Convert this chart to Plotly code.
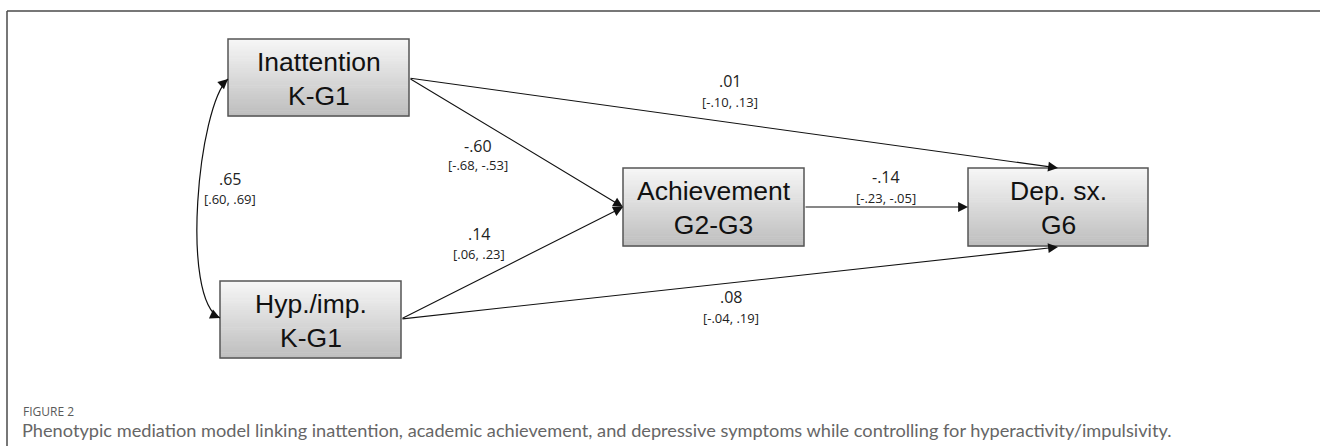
import plotly.graph_objects as go

# ---- model content -------------------------------------------------------
node_labels = ["Inattention<br>K-G1", "Hyp./imp.<br>K-G1",
               "Achievement<br>G2-G3", "Dep. sx.<br>G6"]

# directed paths (standardised estimates with 95% CI)
path_names = ["inatt_dep", "inatt_ach", "hyp_ach", "hyp_dep", "ach_dep"]
path_est = [0.01, -0.60, 0.14, 0.08, -0.14]
path_ci_low = [-0.10, -0.68, 0.06, -0.04, -0.23]
path_ci_high = [0.13, -0.53, 0.23, 0.19, -0.05]

# covariance between the two ADHD dimensions
cov_est = 0.65
cov_ci_low = 0.60
cov_ci_high = 0.69

caption_head = "FIGURE 2"
caption_text = ("Phenotypic mediation model linking inattention, academic achievement, "
                "and depressive symptoms while controlling for hyperactivity/impulsivity.")

# ---- layout geometry (pixel space) ---------------------------------------
W, H = 1320, 446
box_geom = [(228, 409, 39, 116), (220, 401, 281, 358),
            (623, 804, 168, 246), (968, 1148, 168, 246)]
arrow_geom = {                       # tail -> tip
    "inatt_dep": ((409, 78), (1058, 168)),
    "inatt_ach": ((409, 78), (623, 207)),
    "hyp_ach": ((401, 319), (623, 207)),
    "hyp_dep": ((401, 319), (1058, 247)),
    "ach_dep": ((804, 207), (968, 207)),
}
label_geom = {                       # (x, y of estimate, y of CI)
    "inatt_dep": (730, 81, 102),
    "inatt_ach": (478, 146, 165),
    "hyp_ach": (479, 234, 254),
    "hyp_dep": (731, 297, 318),
    "ach_dep": (886, 177, 198),
}
cov_label_geom = (230, 179, 199)
cov_curve = [(228, 79), (198, 106), (180, 300), (220, 318)]


def fmt(v):
    s = f"{v:.2f}"
    return s.replace("0.", ".", 1)


def ci_text(lo, hi):
    return f"[{fmt(lo)}, {fmt(hi)}]"


fig = go.Figure()
shapes = []
annotations = []

# frame (top and left rule)
shapes.append(dict(type="line", x0=7, x1=W, y0=11, y1=11,
                   line=dict(color="#4a4a4a", width=1.5)))
shapes.append(dict(type="line", x0=7, x1=7, y0=11, y1=H,
                   line=dict(color="#4a4a4a", width=1.5)))

# boxes with vertical grey gradient
n_strips = 40
top_c, bot_c = 246, 190
for (x0, x1, y0, y1), label in zip(box_geom, node_labels):
    h = (y1 - y0) / n_strips
    for i in range(n_strips):
        t = i / (n_strips - 1)
        g = round(top_c + (bot_c - top_c) * t)
        shapes.append(dict(type="rect", x0=x0, x1=x1, y0=y0 + i * h, y1=y0 + (i + 1) * h + 0.6,
                           fillcolor=f"rgb({g},{g},{g})", line=dict(width=0), layer="below"))
    shapes.append(dict(type="rect", x0=x0, x1=x1, y0=y0, y1=y1,
                       fillcolor="rgba(0,0,0,0)", line=dict(color="#555555", width=1.5)))
    annotations.append(dict(x=(x0 + x1) / 2, y=(y0 + y1) / 2 + 1, xref="x", yref="y",
                            text=label, showarrow=False,
                            font=dict(family="Liberation Sans, Arial", size=26.5, color="#111111")))

arrow_style = dict(arrowhead=2, arrowsize=1.8, arrowwidth=1.1,
                   arrowcolor="#111111", standoff=0, startstandoff=0)

# directed paths
for name, est, lo, hi in zip(path_names, path_est, path_ci_low, path_ci_high):
    (tx, ty), (hx, hy) = arrow_geom[name]
    annotations.append(dict(x=hx, y=hy, ax=tx, ay=ty, xref="x", yref="y",
                            axref="x", ayref="y", text="", showarrow=True, **arrow_style))
    lx, ly_est, ly_ci = label_geom[name]
    annotations.append(dict(x=lx, y=ly_est, xref="x", yref="y", text=fmt(est),
                            showarrow=False,
                            font=dict(family="Open Sans", size=16, color="#222222")))
    annotations.append(dict(x=lx, y=ly_ci, xref="x", yref="y", text=ci_text(lo, hi),
                            showarrow=False,
                            font=dict(family="Open Sans", size=13, color="#222222")))

# covariance: curved double-headed arrow
(p0, c1, c2, p3) = cov_curve
shapes.append(dict(type="path",
                   path=f"M {p0[0]},{p0[1]} C {c1[0]},{c1[1]} {c2[0]},{c2[1]} {p3[0]},{p3[1]}",
                   line=dict(color="#111111", width=1.2)))
for tip, ctrl in ((p0, c1), (p3, c2)):
    dx, dy = tip[0] - ctrl[0], tip[1] - ctrl[1]
    d = (dx ** 2 + dy ** 2) ** 0.5
    annotations.append(dict(x=tip[0], y=tip[1], ax=tip[0] - dx / d * 10, ay=tip[1] - dy / d * 10,
                            xref="x", yref="y", axref="x", ayref="y", text="",
                            showarrow=True, **arrow_style))
lx, ly_est, ly_ci = cov_label_geom
annotations.append(dict(x=lx, y=ly_est, xref="x", yref="y", text=fmt(cov_est), showarrow=False,
                        font=dict(family="Open Sans", size=16, color="#222222")))
annotations.append(dict(x=lx, y=ly_ci, xref="x", yref="y", text=ci_text(cov_ci_low, cov_ci_high),
                        showarrow=False, font=dict(family="Open Sans", size=13, color="#222222")))

# caption
annotations.append(dict(x=21, y=411, xref="x", yref="y", xanchor="left", text=caption_head,
                        showarrow=False, font=dict(family="Open Sans", size=12, color="#5a5a5a")))
annotations.append(dict(x=20, y=430, xref="x", yref="y", xanchor="left", text=caption_text,
                        showarrow=False, font=dict(family="Lato", size=18.2, color="#666666")))

fig.update_layout(
    width=W, height=H,
    margin=dict(l=0, r=0, t=0, b=0),
    paper_bgcolor="white", plot_bgcolor="white",
    xaxis=dict(range=[0, W], visible=False, fixedrange=True),
    yaxis=dict(range=[H, 0], visible=False, fixedrange=True),
    shapes=shapes, annotations=annotations, showlegend=False,
)

fig.write_html("out.html")
